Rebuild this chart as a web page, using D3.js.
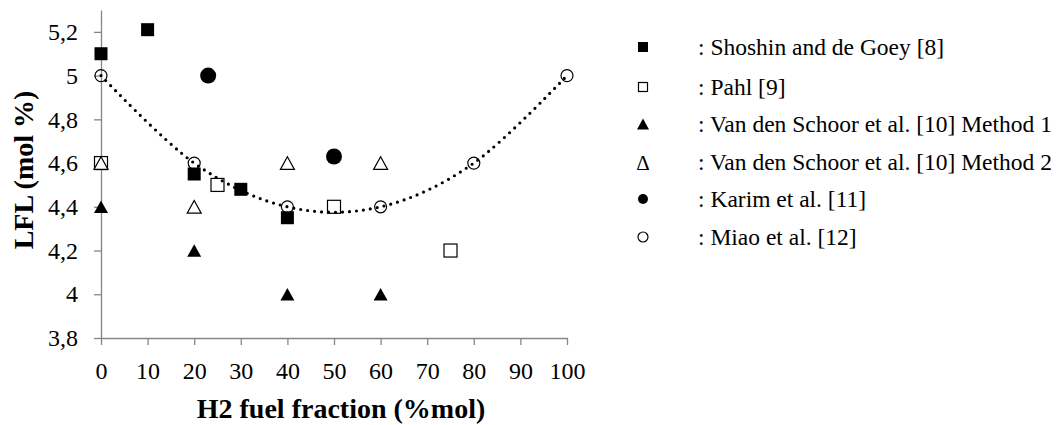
<!DOCTYPE html>
<html lang="en">
<head>
<meta charset="utf-8" />
<title>LFL vs H2 fuel fraction</title>
<style>
  body { margin: 0; background: #fff; }
  svg { display: block; font-family: 'Liberation Serif', 'Times New Roman', serif; }
  .axis path, .axis line { stroke: #868686; stroke-width: 1.3px; }
  .axis text { font-size: 24px; fill: #000; font-family: 'Liberation Serif', serif; }
  .title { font-size: 28px; font-weight: bold; }
  .legend text { font-size: 23.5px; }
</style>
</head>
<body>
<script src="https://d3js.org/d3.v7.min.js"></script>
<script>
// ---- data ----
const xTicks = [0, 10, 20, 30, 40, 50, 60, 70, 80, 90, 100];
const yTicks = [3.8, 4.0, 4.2, 4.4, 4.6, 4.8, 5.0, 5.2];
const yTickLabels = ["3,8", "4", "4,2", "4,4", "4,6", "4,8", "5", "5,2"];

const shoshinX = [0, 10, 20, 30, 40];
const shoshinY = [5.10, 5.21, 4.55, 4.48, 4.35];
const pahlX = [0, 25, 50, 75];
const pahlY = [4.6, 4.5, 4.4, 4.2];
const schoor1X = [0, 20, 40, 60];
const schoor1Y = [4.4, 4.2, 4.0, 4.0];
const schoor2X = [0, 20, 40, 60];
const schoor2Y = [4.6, 4.4, 4.6, 4.6];
const karimX = [23, 50];
const karimY = [5.0, 4.63];
const miaoX = [0, 20, 40, 60, 80, 100];
const miaoY = [5.0, 4.6, 4.4, 4.4, 4.6, 5.0];

const legendLabels = [
  ": Shoshin and de Goey [8]",
  ": Pahl [9]",
  ": Van den Schoor et al. [10] Method 1",
  ": Van den Schoor et al. [10] Method 2",
  ": Karim et al. [11]",
  ": Miao et al. [12]"
];

// ---- layout ----
const W = 1062, H = 425;
const x = d3.scaleLinear().domain([0, 100]).range([101, 567]);
const y = d3.scaleLinear().domain([3.8, 5.3]).range([338, 10]);

const svg = d3.select("body").append("svg")
  .attr("width", W).attr("height", H);

// axes
svg.append("g").attr("class", "axis")
  .attr("transform", `translate(0,${y(3.8)})`)
  .call(d3.axisBottom(x).tickValues(xTicks).tickSize(7).tickSizeOuter(0).tickPadding(17))
  .call(g => g.selectAll("text").attr("dy", "0.71em"));

svg.append("g").attr("class", "axis")
  .attr("transform", `translate(${x(0)},0)`)
  .call(d3.axisLeft(y).tickValues(yTicks).tickSize(7).tickSizeOuter(0).tickPadding(16)
    .tickFormat((d, i) => yTickLabels[i]));

// axis titles
svg.append("text").attr("class", "title")
  .attr("x", 341).attr("y", 418)
  .attr("text-anchor", "middle")
  .text("H2 fuel fraction (%mol)");

svg.append("text").attr("class", "title")
  .attr("transform", "translate(33,170) rotate(-90)")
  .attr("text-anchor", "middle")
  .text("LFL (mol %)");

// marker painters
function drawMarker(g, type, px, py, s) {
  if (type === "sqFill" || type === "sqOpen") {
    g.append("rect")
      .attr("x", px - s / 2).attr("y", py - s / 2)
      .attr("width", s).attr("height", s)
      .attr("fill", type === "sqFill" ? "#000" : "#fff")
      .attr("stroke", "#000").attr("stroke-width", type === "sqFill" ? 0 : 1.2);
  } else if (type === "triFill" || type === "triOpen") {
    const h = s * 0.9;
    g.append("path")
      .attr("d", `M${px},${py - h / 2}L${px + s / 2},${py + h / 2}L${px - s / 2},${py + h / 2}Z`)
      .attr("fill", type === "triFill" ? "#000" : "#fff")
      .attr("stroke", "#000").attr("stroke-width", type === "triFill" ? 0 : 1.2);
  } else {
    g.append("circle")
      .attr("cx", px).attr("cy", py).attr("r", s / 2)
      .attr("fill", type === "cirFill" ? "#000" : "none")
      .attr("stroke", "#000").attr("stroke-width", type === "cirFill" ? 0 : 1.2);
  }
}

const series = [
  { xs: shoshinX, ys: shoshinY, type: "sqFill", size: 13, legSize: 10 },
  { xs: pahlX, ys: pahlY, type: "sqOpen", size: 13, legSize: 9 },
  { xs: schoor1X, ys: schoor1Y, type: "triFill", size: 14, legSize: 12 },
  { xs: schoor2X, ys: schoor2Y, type: "triOpen", size: 14, legSize: 11 },
  { xs: karimX, ys: karimY, type: "cirFill", size: 16, legSize: 10 },
  { xs: miaoX, ys: miaoY, type: "cirOpen", size: 12, legSize: 10 }
];

const marks = svg.append("g");
series.forEach(s => {
  s.xs.forEach((v, i) => drawMarker(marks, s.type, x(v), y(s.ys[i]), s.size));
});

// dotted trend line through Miao et al. data
svg.append("path")
  .datum(miaoX.map((v, i) => [v, miaoY[i]]))
  .attr("fill", "none")
  .attr("stroke", "#000")
  .attr("stroke-width", 3.2)
  .attr("stroke-linecap", "round")
  .attr("stroke-dasharray", "0 7")
  .attr("d", d3.line().x(d => x(d[0])).y(d => y(d[1])).curve(d3.curveCatmullRom.alpha(0)));

// legend
const leg = svg.append("g").attr("class", "legend");
const legY = [47, 87, 124, 162, 199, 237];
series.forEach((s, i) => {
  if (s.type === "triOpen") {
    leg.append("text").attr("x", 643).attr("y", legY[i] + 8)
      .attr("text-anchor", "middle").style("font-size", "21px").text("\u0394");
  } else {
    drawMarker(leg, s.type, 643, legY[i], s.legSize);
  }
  leg.append("text").attr("x", 698).attr("y", legY[i] + 8).text(legendLabels[i]);
});
</script>
</body>
</html>
